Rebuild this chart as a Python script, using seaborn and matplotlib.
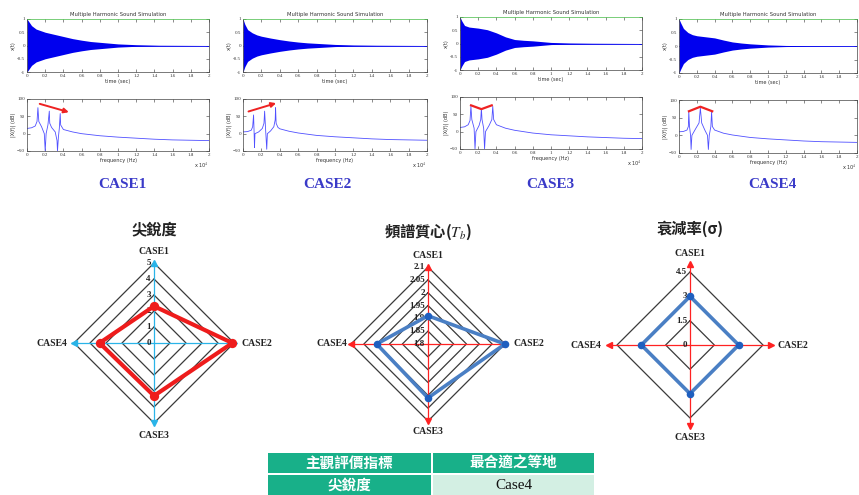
import matplotlib
matplotlib.use('Agg')
import matplotlib.pyplot as plt
from matplotlib.patches import Rectangle
import seaborn as sns
import numpy as np

sns.set_style('white')
plt.rcParams['font.family'] = ['Liberation Serif', 'Noto Sans CJK TC', 'DejaVu Sans']
plt.rcParams['mathtext.fontset'] = 'stix'

W, H = 859, 495

# ---- time-domain envelopes ----
t_env = [0, 0.02, 0.05, 0.1, 0.15, 0.2, 0.3, 0.4, 0.5, 0.6, 0.7, 0.8, 1.0, 1.2, 1.45, 2.0]
env1 = [1.0, 0.9, 0.75, 0.62, 0.56, 0.5, 0.42, 0.34, 0.26, 0.2, 0.15, 0.12, 0.06, 0.03, 0.01, 0.0]
env2 = [1.0, 0.8, 0.6, 0.48, 0.4, 0.35, 0.28, 0.22, 0.17, 0.13, 0.1, 0.08, 0.04, 0.02, 0.01, 0.0]
env3 = [1.0, 0.85, 0.68, 0.62, 0.6, 0.58, 0.52, 0.4, 0.25, 0.15, 0.12, 0.1, 0.04, 0.02, 0.01, 0.0]
env4 = [1.0, 0.85, 0.65, 0.5, 0.42, 0.38, 0.34, 0.3, 0.22, 0.15, 0.11, 0.08, 0.04, 0.02, 0.01, 0.0]

# ---- spectra (frequency in 1e4 Hz, level in dB) ----
f1 = [0, 0.05, 0.09, 0.11, 0.12, 0.13, 0.16, 0.19, 0.2, 0.21, 0.23, 0.245, 0.25, 0.27, 0.31, 0.33,
      0.335, 0.345, 0.355, 0.365, 0.37, 0.4, 0.5, 0.6, 0.8, 1.0, 1.2, 1.4, 1.6, 1.8, 2.0]
db1 = [15, 17, 22, 35, 75, 35, 20, 0, -50, 0, 25, 65, 30, 18, 5, -20,
       -50, -10, 15, 58, 25, 12, 5, 0, -6, -10, -13, -16, -18, -19, -20]
f2 = [0, 0.05, 0.09, 0.105, 0.115, 0.12, 0.125, 0.13, 0.17, 0.21, 0.228, 0.235, 0.245, 0.258, 0.265, 0.3,
      0.335, 0.35, 0.354, 0.36, 0.38, 0.4, 0.5, 0.6, 0.8, 1.0, 1.2, 1.4, 1.6, 1.8, 2.0]
db2 = [5, 6, 10, 20, 54, 10, -40, 0, 5, 15, 30, 65, 15, -45, 0, 8,
       20, 40, 75, 30, 18, 14, 7, 2, -5, -9, -12, -15, -17, -18, -19]
f3 = [0, 0.05, 0.09, 0.11, 0.12, 0.13, 0.155, 0.165, 0.175, 0.21, 0.228, 0.235, 0.242, 0.26, 0.27,
      0.28, 0.32, 0.35, 0.36, 0.37, 0.4, 0.5, 0.6, 0.8, 1.0, 1.2, 1.4, 1.6, 1.8, 2.0]
db3 = [12, 14, 20, 32, 73, 35, 10, -50, 0, 18, 35, 67, 35, 10, -50,
       0, 18, 35, 73, 35, 20, 10, 4, -4, -9, -12, -15, -17, -19, -20]
f4 = [0, 0.05, 0.09, 0.105, 0.11, 0.118, 0.13, 0.136, 0.145, 0.19, 0.225, 0.24, 0.255, 0.29, 0.32,
      0.33, 0.34, 0.358, 0.366, 0.375, 0.4, 0.5, 0.6, 0.8, 1.0, 1.2, 1.4, 1.6, 1.8, 2.0]
db4 = [10, 11, 15, 25, 67, 25, 0, -40, 0, 20, 35, 77, 35, 15, 0,
       -40, 0, 25, 67, 25, 15, 6, 1, -6, -10, -13, -16, -18, -19, -20]

# red annotation marks on the spectra (freq, dB)
mark1 = ([0.14, 0.46], [86, 62])          # arrow down
mark2 = ([0.06, 0.36], [64, 88])          # arrow up
mark3 = ([0.11, 0.235, 0.36], [77, 65, 77])
mark4 = ([0.10, 0.24, 0.385], [67, 81, 67])

case_names = ['CASE1', 'CASE2', 'CASE3', 'CASE4']

# ---- radar data ----
sharp_vals = [2.3, 4.9, 3.3, 3.4]
sharp_ticks = [0, 1, 2, 3, 4, 5]
cent_vals = [1.91, 2.1, 2.01, 2.0]
cent_ticks = [1.8, 1.85, 1.9, 1.95, 2.0, 2.05, 2.1]
decay_vals = [3.0, 3.0, 3.0, 3.0]
decay_ticks = [0, 1.5, 3, 4.5]

table_header = ['主觀評價指標', '最合適之等地']
table_row = ['尖銳度', 'Case4']


def px_axes(fig, left, top, right, bottom):
    return fig.add_axes([left / W, 1 - bottom / H, (right - left) / W, (bottom - top) / H])


def matlab_style(ax):
    ax.tick_params(direction='in', length=2, width=0.4, labelsize=3.6, pad=1.5,
                   top=True, right=True, bottom=True, left=True, colors='#333333')
    for s in ax.spines.values():
        s.set_linewidth(0.5)
        s.set_color('#444444')
    ax.set_xticks(np.arange(0, 2.01, 0.2))
    ax.set_xticklabels(['0', '0.2', '0.4', '0.6', '0.8', '1', '1.2', '1.4', '1.6', '1.8', '2'])
    ax.set_xlim(0, 2)


fig = plt.figure(figsize=(W / 100, H / 100), dpi=100)
fig.patch.set_facecolor('white')

panels = [
    (27, 19, 209, 72, 99, 151, 122, 185, env1, f1, db1, mark1, 'arrow'),
    (243, 19, 427, 72, 99, 151, 327, 184, env2, f2, db2, mark2, 'arrow'),
    (460, 17, 642, 70, 97, 149, 550, 185, env3, f3, db3, mark3, 'line'),
    (679, 19, 857, 73, 100, 153, 772, 185, env4, f4, db4, mark4, 'line'),
]

for i, (l, t0, r, b0, t1, b1, lx, ly, env, ff, db, mark, kind) in enumerate(panels):
    # waveform
    ax = px_axes(fig, l, t0, r, b0)
    e = np.array(env)
    ax.fill_between(t_env, e, -e, color='#0000ee', linewidth=0)
    sns.lineplot(x=t_env, y=[0] * len(t_env), ax=ax, color='#0000ee', linewidth=0.6,
                 estimator=None)
    matlab_style(ax)
    ax.set_ylim(-1, 1)
    ax.set_yticks([-1, -0.5, 0, 0.5, 1])
    ax.set_yticklabels(['-1', '-0.5', '0', '0.5', '1'])
    ax.spines['top'].set_color('#44bb44')
    ax.set_title('Multiple Harmonic Sound Simulation', fontsize=3.8, pad=2,
                 family='DejaVu Sans', color='#333333')
    ax.set_xlabel('time (sec)', fontsize=3.6, labelpad=1, family='DejaVu Sans', color='#333333')
    ax.set_ylabel('x(t)', fontsize=3.6, labelpad=1, family='DejaVu Sans', color='#333333')

    # spectrum
    ax2 = px_axes(fig, l, t1, r, b1)
    sns.lineplot(x=ff, y=db, ax=ax2, sort=False, estimator=None, color='#5050ff', linewidth=0.6)
    matlab_style(ax2)
    ax2.set_ylim(-50, 100)
    ax2.set_yticks([-50, 0, 50, 100])
    ax2.set_xlabel('frequency (Hz)', fontsize=3.6, labelpad=1, family='DejaVu Sans', color='#333333')
    ax2.set_ylabel('|X(f)| (dB)', fontsize=3.6, labelpad=1, family='DejaVu Sans', color='#333333')
    ax2.text(1.0, -0.2, r'x 10$^4$', transform=ax2.transAxes, fontsize=3.6,
             ha='right', va='top', family='DejaVu Sans', color='#333333')
    if kind == 'arrow':
        ax2.annotate('', xy=(mark[0][1], mark[1][1]), xytext=(mark[0][0], mark[1][0]),
                     arrowprops=dict(arrowstyle='-|>', color='#ee2222', lw=1.4,
                                     mutation_scale=7, shrinkA=0, shrinkB=0))
    else:
        ax2.plot(mark[0], mark[1], color='#ee2222', lw=1.6, solid_capstyle='butt')

    fig.text(lx / W, 1 - ly / H, case_names[i], ha='center', va='center',
             fontsize=11, fontweight='bold', color='#3a3ac8', family='Liberation Serif')


def radar(cx, cy, outer_px, title, title_y, ticks, vals, axis_color, arrow_r,
          poly_color, pt_color, lw, ms, label_off):
    half = 115
    ax = px_axes(fig, cx - half, cy - half, cx + half, cy + half)
    lim = half / outer_px
    ax.set_xlim(-lim, lim)
    ax.set_ylim(-lim, lim)
    ax.axis('off')
    lo, hi = ticks[0], ticks[-1]
    ang = np.deg2rad([90, 0, -90, 180])
    cs, sn = np.cos(ang), np.sin(ang)
    # rings
    for tk in ticks[1:]:
        rr = (tk - lo) / (hi - lo)
        ax.plot(np.append(rr * cs, rr * cs[0]), np.append(rr * sn, rr * sn[0]),
                color='#3a3a3a', lw=0.9, zorder=1)
    # axes lines with arrow heads
    ax.plot([-arrow_r, arrow_r], [0, 0], color=axis_color, lw=0.9, zorder=2)
    ax.plot([0, 0], [-arrow_r, arrow_r], color=axis_color, lw=0.9, zorder=2)
    for mk, (x, y) in zip(['^', '>', 'v', '<'], zip(arrow_r * cs, arrow_r * sn)):
        ax.plot(x, y, marker=mk, color=axis_color, ms=4.5, zorder=3)
    # tick labels
    for tk in ticks:
        rr = (tk - lo) / (hi - lo)
        ax.text(-0.04, rr, f'{tk:g}', ha='right', va='center', fontsize=6.5,
                fontweight='bold', color='#222222', family='Liberation Serif', zorder=4)
    # data polygon
    rv = [(v - lo) / (hi - lo) for v in vals]
    xs = [r_ * c for r_, c in zip(rv, cs)]
    ys = [r_ * s for r_, s in zip(rv, sn)]
    sns.lineplot(x=xs + xs[:1], y=ys + ys[:1], ax=ax, sort=False, estimator=None,
                 color=poly_color, lw=lw, zorder=5)
    ax.scatter(xs, ys, color=pt_color, s=ms, zorder=6, linewidths=0)
    # case labels
    up, right, down, left = label_off
    kw = dict(fontsize=7, fontweight='bold', color='#222222', family='Liberation Serif')
    ax.text(0, up / outer_px, 'CASE1', ha='center', va='center', **kw)
    ax.text(right / outer_px, 0, 'CASE2', ha='left', va='center', **kw)
    ax.text(0, -down / outer_px, 'CASE3', ha='center', va='center', **kw)
    ax.text(-left / outer_px, 0, 'CASE4', ha='right', va='center', **kw)
    fig.text(cx / W, 1 - title_y / H, title, ha='center', va='center', fontsize=11,
             fontweight='bold', color='#222222',
             family=['Noto Sans CJK TC', 'DejaVu Sans'])


radar(154, 343, 80, '尖銳度', 229, sharp_ticks, sharp_vals, '#2ab4e8', 1.0,
      '#ee1c1c', '#ee1c1c', 3.0, 45, (91, 88, 92, 87))
radar(428, 344, 77, '頻譜質心($\\mathbf{\\mathit{T_b}}$)', 232, cent_ticks, cent_vals,
      '#ff2222', 1.0, '#4a7fc4', '#1f5fbf', 2.6, 30, (89, 85, 88, 81))
radar(690, 345, 73, '衰減率(σ)', 229, decay_ticks, decay_vals, '#ff2222', 1.11,
      '#4a7fc4', '#1f5fbf', 2.6, 30, (92, 87, 93, 89))

# table
tab = px_axes(fig, 268, 453, 594, 495)
tab.set_xlim(268, 594)
tab.set_ylim(495, 453)
tab.axis('off')
teal = '#18b089'
light = '#d3efe3'
cells = [(268, 453, 163, 20, teal), (433, 453, 161, 20, teal),
         (268, 475, 163, 20, teal), (433, 475, 161, 20, light)]
for x, y, w, h, c in cells:
    tab.add_patch(Rectangle((x, y), w, h, facecolor=c, edgecolor='none'))
cjk = ['Noto Sans CJK TC', 'DejaVu Sans']
tab.text(349.5, 463, table_header[0], ha='center', va='center', color='white',
         fontsize=10.5, fontweight='bold', family=cjk)
tab.text(513.5, 463, table_header[1], ha='center', va='center', color='white',
         fontsize=10.5, fontweight='bold', family=cjk)
tab.text(349.5, 485, table_row[0], ha='center', va='center', color='white',
         fontsize=10.5, fontweight='bold', family=cjk)
tab.text(513.5, 485, table_row[1], ha='center', va='center', color='#111111',
         fontsize=11, family='Liberation Serif')

fig.savefig('out.png', dpi=100)
